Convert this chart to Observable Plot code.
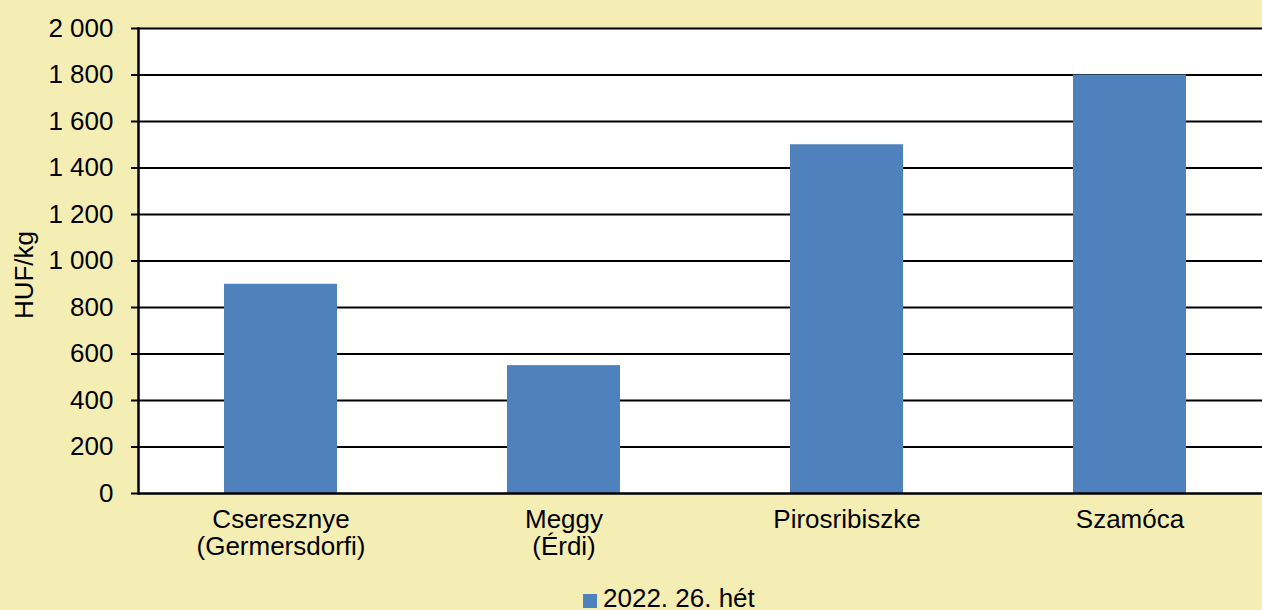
<!DOCTYPE html>
<html>
<head>
<meta charset="utf-8">
<script src="https://cdn.jsdelivr.net/npm/d3@7"></script>
<script src="https://cdn.jsdelivr.net/npm/@observablehq/plot@0.6"></script>
<style>
  html, body { margin: 0; padding: 0; background: #f5eeb4; overflow: hidden; }
  #wrap { position: relative; width: 1262px; height: 610px; overflow: hidden; font-family: "Liberation Sans", Arial, sans-serif; }
  #wrap svg { max-width: none; background: transparent; }
  #legend { position: absolute; left: 583px; top: 583px; height: 30px; line-height: 30px; font-size: 26px; color: #000; display: flex; align-items: center; white-space: nowrap; }
  #legend .sw { width: 14px; height: 14px; background: #4f81bd; margin-right: 6px; margin-top: 6px; }
</style>
</head>
<body>
<div id="wrap"></div>
<script>
const categories = ["Cseresznye (Germersdorfi)", "Meggy (Érdi)", "Pirosribiszke", "Szamóca"];
const categoryLabels = ["Cseresznye\n(Germersdorfi)", "Meggy\n(Érdi)", "Pirosribiszke", "Szamóca"];
const values2022w26 = [900, 550, 1500, 1800];
const seriesName = "2022. 26. hét";
const yTicks = [0, 200, 400, 600, 800, 1000, 1200, 1400, 1600, 1800, 2000];
const yLabel = "HUF/kg";

const data = categories.map((c, i) => ({category: c, value: values2022w26[i]}));
const labelOf = new Map(categories.map((c, i) => [c, categoryLabels[i]]));
const fmt = d => d3.format(",")(d).replace(/,/g, " ");

const chart = Plot.plot({
  width: 1262,
  height: 560,
  marginLeft: 138,
  marginRight: -10,
  marginTop: 28,
  marginBottom: 67,
  style: {fontFamily: "Liberation Sans, Arial, sans-serif", fontSize: "26px", background: "transparent", color: "#000", overflow: "visible"},
  x: {domain: categories, paddingInner: 0.6, paddingOuter: 0.3, label: null},
  y: {domain: [0, 2000], label: null},
  marks: [
    Plot.frame({fill: "white", stroke: null}),
    Plot.ruleY(yTicks.filter(d => d > 0), {stroke: "black", strokeWidth: 2}),
    Plot.barY(data, {x: "category", y: "value", fill: "#4f81bd"}),
    Plot.ruleY([0], {stroke: "black", strokeWidth: 2.5}),
    Plot.frame({anchor: "left", stroke: "black", strokeWidth: 2.5}),
    Plot.axisY({ticks: yTicks, tickFormat: fmt, tickSize: 7, tickPadding: 18, fontSize: 26, stroke: "black", strokeWidth: 2, label: null}),
    Plot.axisX({tickSize: 0, tickPadding: 15, fontSize: 26, lineHeight: 1.05, tickFormat: d => labelOf.get(d), label: null}),
    Plot.text([yLabel], {frameAnchor: "left", textAnchor: "middle", dx: -114, dy: 14, rotate: -90, fontSize: 26, fill: "black"})
  ]
});
document.getElementById("wrap").appendChild(chart);

const legend = document.createElement("div");
legend.id = "legend";
legend.innerHTML = `<span class="sw"></span><span>${seriesName}</span>`;
document.getElementById("wrap").appendChild(legend);
</script>
</body>
</html>
